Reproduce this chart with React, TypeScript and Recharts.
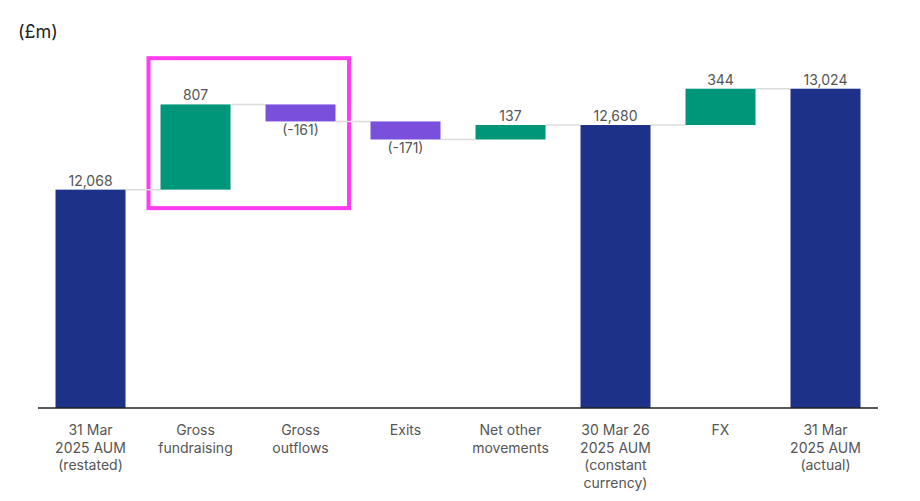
import { BarChart, Bar, XAxis, YAxis, LabelList, ReferenceArea } from 'recharts';

const categories = [
  '31 Mar\n2025 AUM\n(restated)',
  'Gross\nfundraising',
  'Gross\noutflows',
  'Exits',
  'Net other\nmovements',
  '30 Mar 26\n2025 AUM\n(constant\ncurrency)',
  'FX',
  '31 Mar\n2025 AUM\n(actual)',
];
const amounts = [12068, 807, -161, -171, 137, 12680, 344, 13024];
const isTotal = [true, false, false, false, false, true, false, true];

// y axis window and the highlighted pair of movements
const yDomain = [10000, 13400];
const highlightFrom = 'Gross\nfundraising';
const highlightTo = 'Gross\noutflows';
const highlightTop = 13313;
const highlightBottom = 11893;

const NAVY = '#1d3189';
const TEAL = '#00967a';
const PURPLE = '#7a4fdb';
const FONT = 'Inter, "Noto Sans", sans-serif';

type Row = { name: string; amount: number; total: boolean; range: [number, number] };

const rows: Row[] = (() => {
  let running = 0;
  return categories.map((name, i) => {
    const amount = amounts[i];
    let range: [number, number];
    if (isTotal[i]) {
      range = [0, amount];
      running = amount;
    } else {
      const next = running + amount;
      range = [Math.min(running, next), Math.max(running, next)];
      running = next;
    }
    return { name, amount, total: isTotal[i], range };
  });
})();

const fmt = (v: number) => (v < 0 ? `(${v})` : v.toLocaleString('en-GB'));

function WaterfallBar(props: any) {
  const { x, y, width, height, index } = props;
  const row = rows[index];
  const top = Math.min(y, y + height);
  const h = Math.abs(height);
  const fill = row.total ? NAVY : row.amount >= 0 ? TEAL : PURPLE;
  // connector sits at the running total this bar ends on
  const endY = !row.total && row.amount < 0 ? top + h : top;
  return (
    <g>
      {index < rows.length - 1 && (
        <line x1={x + width} x2={x + width * 1.5} y1={endY} y2={endY} stroke="#dcdcdc" strokeWidth={1.5} />
      )}
      <rect x={x} y={top} width={width} height={h} fill={fill} />
    </g>
  );
}

function ValueLabel(props: any) {
  const { x, y, width, height, index } = props;
  const row = rows[index];
  const top = Math.min(y, y + height);
  const bottom = Math.max(y, y + height);
  const below = !row.total && row.amount < 0;
  return (
    <text
      x={x + width / 2}
      y={below ? bottom + 14 : top - 4}
      textAnchor="middle"
      fill="#555"
      fontSize={14}
      fontFamily={FONT}
    >
      {fmt(row.amount)}
    </text>
  );
}

function CategoryTick(props: any) {
  const { x, y, payload } = props;
  const lines = String(payload.value).split('\n');
  return (
    <text x={x} y={y} textAnchor="middle" fill="#555" fontSize={14} fontFamily={FONT}>
      {lines.map((line, i) => (
        <tspan key={i} x={x} dy={i === 0 ? 27 : 17.5}>
          {line}
        </tspan>
      ))}
    </text>
  );
}

function HighlightBox(props: any) {
  const { x, y, width, height } = props;
  return (
    <rect x={x + 5.5} y={y} width={width - 9.5} height={height} fill="none" stroke="#ff3cf0" strokeWidth={4} />
  );
}

export default function App() {
  return (
    <div style={{ position: 'relative', width: 904, height: 485, fontFamily: FONT }}>
      <div style={{ position: 'absolute', left: 10, top: 13, fontSize: 18, color: '#222' }}>(£m)</div>
      <BarChart
        width={904}
        height={485}
        data={rows}
        margin={{ top: 41, right: 34, bottom: 0, left: 30 }}
        barCategoryGap="16.67%"
      >
        <XAxis
          dataKey="name"
          interval={0}
          height={85}
          tickLine={false}
          tickSize={0}
          tickMargin={0}
          axisLine={{ stroke: '#222', strokeWidth: 1.5 }}
          tick={<CategoryTick />}
        />
        <YAxis hide domain={yDomain} allowDataOverflow />
        <ReferenceArea
          x1={highlightFrom}
          x2={highlightTo}
          y1={highlightBottom}
          y2={highlightTop}
          shape={<HighlightBox />}
          ifOverflow="visible"
        />
        <Bar dataKey="range" shape={<WaterfallBar />} isAnimationActive={false}>
          <LabelList dataKey="range" content={<ValueLabel />} />
        </Bar>
      </BarChart>
    </div>
  );
}
